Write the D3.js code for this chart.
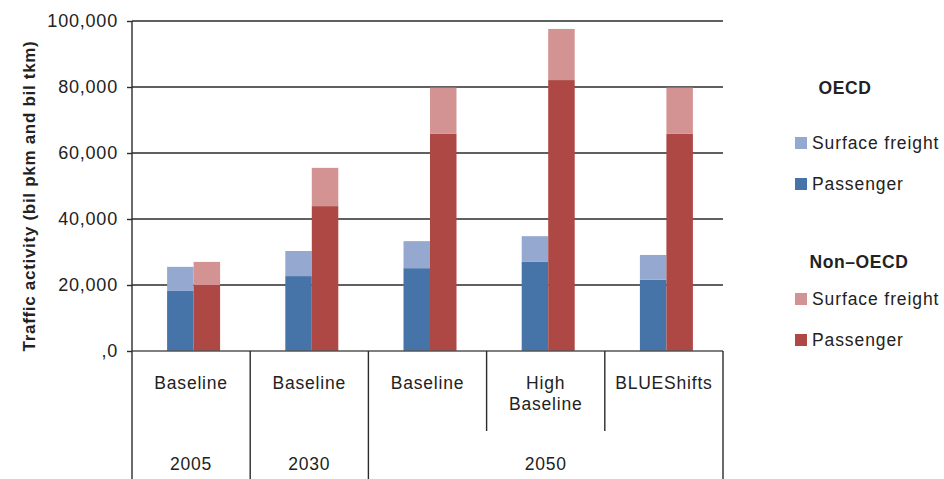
<!DOCTYPE html>
<html>
<head>
<meta charset="utf-8">
<script src="https://cdn.jsdelivr.net/npm/d3@7"></script>
<style>
  body { margin: 0; background: #fff; }
  svg { font-family: "Liberation Sans", Arial, sans-serif; }
</style>
</head>
<body>
<svg id="chart"></svg>
<script>
// scenario labels (one per bar pair) and year groups
const scenarios = [["Baseline"], ["Baseline"], ["Baseline"], ["High", "Baseline"], ["BLUEShifts"]];
const years = ["2005", "2030", "2050"];
const yearSpans = [1, 1, 3];
// which dividers run down to the bottom, which stop under the scenario row
const fullDividers = [0, 1, 2, 5];
const shortDividers = [3, 4];

// values (bil pkm / bil tkm)
const oecdPassenger = [18200, 22700, 25100, 27000, 21600];
const oecdFreight = [7300, 7600, 8200, 7800, 7500];
const nonOecdPassenger = [20000, 43900, 65800, 82100, 65800];
const nonOecdFreight = [7000, 11600, 14000, 15500, 14000];

const yTicks = [0, 20000, 40000, 60000, 80000, 100000];

const colors = {
  oecdPassenger: "#4674A9",
  oecdFreight: "#95A9D0",
  nonPassenger: "#AD4844",
  nonFreight: "#D49393"
};

const width = 944, height = 479;
const plot = { left: 132, right: 723, top: 21, bottom: 351 };

const svg = d3.select("#chart").attr("width", width).attr("height", height);

const x = d3.scaleBand()
  .domain(d3.range(scenarios.length))
  .range([plot.left, plot.right])
  .padding(0);

const y = d3.scaleLinear()
  .domain([0, 100000])
  .range([plot.bottom, plot.top]);

// gridlines
svg.append("g")
  .selectAll("line")
  .data(yTicks.filter(d => d > 0))
  .join("line")
    .attr("x1", plot.left).attr("x2", plot.right)
    .attr("y1", d => y(d)).attr("y2", d => y(d))
    .attr("stroke", "#2b2b2b")
    .attr("stroke-width", 1.4);

// y axis
const yAxis = svg.append("g")
  .attr("transform", `translate(${plot.left},0)`)
  .call(d3.axisLeft(y).tickValues(yTicks).tickSize(5).tickPadding(9)
    .tickFormat(d => d === 0 ? ",0" : d3.format(",")(d)));
yAxis.select(".domain").remove();
yAxis.selectAll(".tick line").attr("stroke", "#2b2b2b").attr("stroke-width", 1.4);
yAxis.selectAll(".tick text")
  .attr("font-size", 18)
  .attr("letter-spacing", 0.8)
  .attr("fill", "#222")
  .attr("font-family", "Liberation Sans, Arial, sans-serif");

svg.append("text")
  .attr("transform", `translate(35,196) rotate(-90)`)
  .attr("text-anchor", "middle")
  .attr("font-size", 17)
  .attr("letter-spacing", 0.7)
  .attr("font-weight", "bold")
  .attr("fill", "#222")
  .text("Traffic activity (bil pkm and bil tkm)");

// bars
const barW = 26.5;
const shift = 2.5;
const stacks = [
  { offset: -barW, pass: oecdPassenger, fr: oecdFreight, c1: colors.oecdPassenger, c2: colors.oecdFreight },
  { offset: 0, pass: nonOecdPassenger, fr: nonOecdFreight, c1: colors.nonPassenger, c2: colors.nonFreight }
];

stacks.forEach(s => {
  const g = svg.append("g");
  const bx = i => x(i) + x.bandwidth() / 2 + shift + s.offset;
  g.selectAll(".p")
    .data(s.pass)
    .join("rect")
      .attr("x", (d, i) => bx(i))
      .attr("width", barW)
      .attr("y", d => y(d))
      .attr("height", d => y(0) - y(d))
      .attr("fill", s.c1);
  g.selectAll(".f")
    .data(s.fr)
    .join("rect")
      .attr("x", (d, i) => bx(i))
      .attr("width", barW)
      .attr("y", (d, i) => y(d + s.pass[i]))
      .attr("height", (d, i) => y(s.pass[i]) - y(d + s.pass[i]))
      .attr("fill", s.c2);
});

// x axis baseline and category frame
svg.append("line")
  .attr("x1", plot.left).attr("x2", plot.right)
  .attr("y1", y(0)).attr("y2", y(0))
  .attr("stroke", "#555").attr("stroke-width", 1.6);

const edge = i => i < scenarios.length ? x(i) : plot.right;

svg.append("line")
  .attr("x1", plot.left).attr("x2", plot.left)
  .attr("y1", plot.top).attr("y2", height)
  .attr("stroke", "#2b2b2b").attr("stroke-width", 1.4);

svg.append("g").selectAll("line")
  .data(fullDividers.filter(d => d > 0))
  .join("line")
    .attr("x1", d => edge(d)).attr("x2", d => edge(d))
    .attr("y1", y(0)).attr("y2", height)
    .attr("stroke", "#2b2b2b").attr("stroke-width", 1.4);

svg.append("g").selectAll("line")
  .data(shortDividers)
  .join("line")
    .attr("x1", d => edge(d)).attr("x2", d => edge(d))
    .attr("y1", y(0)).attr("y2", 431)
    .attr("stroke", "#2b2b2b").attr("stroke-width", 1.4);

// scenario labels
const lab = svg.append("g")
  .attr("font-size", 17.5)
  .attr("letter-spacing", 0.8)
  .attr("fill", "#222")
  .attr("text-anchor", "middle");
scenarios.forEach((lines, i) => {
  const t = lab.append("text")
    .attr("x", x(i) + x.bandwidth() / 2)
    .attr("y", 389);
  lines.forEach((l, j) => {
    t.append("tspan")
      .attr("x", x(i) + x.bandwidth() / 2)
      .attr("dy", j === 0 ? 0 : 21)
      .text(l);
  });
});

// year labels
let start = 0;
years.forEach((yr, i) => {
  const x0 = edge(start), x1 = edge(start + yearSpans[i]);
  lab.append("text")
    .attr("x", (x0 + x1) / 2)
    .attr("y", 470)
    .text(yr);
  start += yearSpans[i];
});

// legend
const legendGroups = [
  { title: "OECD", titleX: 845, titleY: 94, items: [["Surface freight", colors.oecdFreight, 143], ["Passenger", colors.oecdPassenger, 184]] },
  { title: "Non\u2013OECD", titleX: 859, titleY: 268, items: [["Surface freight", colors.nonFreight, 299], ["Passenger", colors.nonPassenger, 340]] }
];
const lg = svg.append("g").attr("fill", "#222");
legendGroups.forEach(gr => {
  lg.append("text")
    .attr("x", gr.titleX).attr("y", gr.titleY)
    .attr("text-anchor", "middle")
    .attr("font-size", 17.5)
    .attr("letter-spacing", 0.6)
    .attr("font-weight", "bold")
    .text(gr.title);
  gr.items.forEach(([name, col, cy]) => {
    lg.append("rect")
      .attr("x", 795).attr("y", cy - 6)
      .attr("width", 12).attr("height", 12)
      .attr("fill", col);
    lg.append("text")
      .attr("x", 812).attr("y", cy + 6)
      .attr("font-size", 17.5)
      .attr("letter-spacing", 0.9)
      .text(name);
  });
});
</script>
</body>
</html>
